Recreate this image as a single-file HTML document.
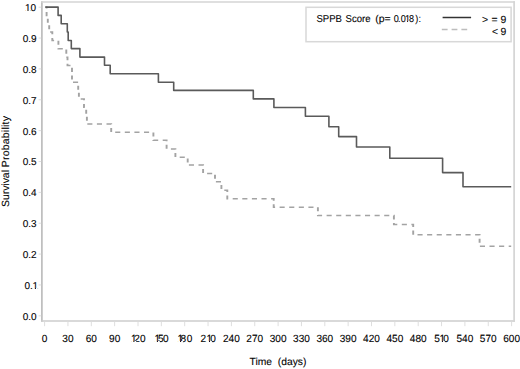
<!DOCTYPE html>
<html><head><meta charset="utf-8"><style>
html,body{margin:0;padding:0;background:#fff;}
svg{display:block;}
.t{text-rendering:geometricPrecision;font-family:"Liberation Sans",sans-serif;font-size:10px;fill:#000;stroke:#000;stroke-width:0.1px;}
</style></head><body>
<svg width="520" height="369" viewBox="0 0 520 369" xmlns="http://www.w3.org/2000/svg">
<rect width="520" height="369" fill="#fff"/>
<line x1="41.9" y1="1.2" x2="41.9" y2="321.8" stroke="#b9b9b9" stroke-width="1.6"/>
<line x1="41.2" y1="2.0" x2="514.9" y2="2.0" stroke="#d4d4d4" stroke-width="1.7"/>
<line x1="41.2" y1="321.0" x2="514.9" y2="321.0" stroke="#cdcdcd" stroke-width="1.7"/>
<line x1="514.1" y1="1.2" x2="514.1" y2="321.8" stroke="#d4d4d4" stroke-width="1.7"/>
<line x1="38.6" y1="315.80" x2="41.2" y2="315.80" stroke="#dedede" stroke-width="1"/>
<text transform="translate(36.60,320.00) scale(1.0,1.0)" text-anchor="end" class="t" style="font-size:10px">0.0</text>
<line x1="38.6" y1="284.94" x2="41.2" y2="284.94" stroke="#dedede" stroke-width="1"/>
<text transform="translate(0,289) scale(1.0,1)" x="24.61 29.99 32.44" class="t" style="font-size:10px">0.1</text>
<line x1="38.6" y1="254.08" x2="41.2" y2="254.08" stroke="#dedede" stroke-width="1"/>
<text transform="translate(36.60,258.00) scale(1.0,1.0)" text-anchor="end" class="t" style="font-size:10px">0.2</text>
<line x1="38.6" y1="223.22" x2="41.2" y2="223.22" stroke="#dedede" stroke-width="1"/>
<text transform="translate(36.60,227.00) scale(1.0,1.0)" text-anchor="end" class="t" style="font-size:10px">0.3</text>
<line x1="38.6" y1="192.36" x2="41.2" y2="192.36" stroke="#dedede" stroke-width="1"/>
<text transform="translate(36.60,196.00) scale(1.0,1.0)" text-anchor="end" class="t" style="font-size:10px">0.4</text>
<line x1="38.6" y1="161.50" x2="41.2" y2="161.50" stroke="#dedede" stroke-width="1"/>
<text transform="translate(36.60,165.00) scale(1.0,1.0)" text-anchor="end" class="t" style="font-size:10px">0.5</text>
<line x1="38.6" y1="130.64" x2="41.2" y2="130.64" stroke="#dedede" stroke-width="1"/>
<text transform="translate(36.60,135.00) scale(1.0,1.0)" text-anchor="end" class="t" style="font-size:10px">0.6</text>
<line x1="38.6" y1="99.78" x2="41.2" y2="99.78" stroke="#dedede" stroke-width="1"/>
<text transform="translate(36.60,104.00) scale(1.0,1.0)" text-anchor="end" class="t" style="font-size:10px">0.7</text>
<line x1="38.6" y1="68.92" x2="41.2" y2="68.92" stroke="#dedede" stroke-width="1"/>
<text transform="translate(36.60,73.00) scale(1.0,1.0)" text-anchor="end" class="t" style="font-size:10px">0.8</text>
<line x1="38.6" y1="38.06" x2="41.2" y2="38.06" stroke="#dedede" stroke-width="1"/>
<text transform="translate(36.60,42.00) scale(1.0,1.0)" text-anchor="end" class="t" style="font-size:10px">0.9</text>
<line x1="38.6" y1="7.20" x2="41.2" y2="7.20" stroke="#dedede" stroke-width="1"/>
<text transform="translate(0,11) scale(1.0,1)" x="25.04 28.09 30.61" class="t" style="font-size:10px">1.0</text>
<line x1="44.60" y1="321.8" x2="44.60" y2="326.2" stroke="#dedede" stroke-width="1"/>
<text transform="translate(44.60,342.00) scale(0.97,1.0)" text-anchor="middle" class="t" style="font-size:10.4px">0</text>
<line x1="67.95" y1="321.8" x2="67.95" y2="326.2" stroke="#dedede" stroke-width="1"/>
<text transform="translate(67.95,342.00) scale(0.97,1.0)" text-anchor="middle" class="t" style="font-size:10.4px">30</text>
<line x1="91.30" y1="321.8" x2="91.30" y2="326.2" stroke="#dedede" stroke-width="1"/>
<text transform="translate(91.30,342.00) scale(0.97,1.0)" text-anchor="middle" class="t" style="font-size:10.4px">60</text>
<line x1="114.65" y1="321.8" x2="114.65" y2="326.2" stroke="#dedede" stroke-width="1"/>
<text transform="translate(114.65,342.00) scale(0.97,1.0)" text-anchor="middle" class="t" style="font-size:10.4px">90</text>
<line x1="138.00" y1="321.8" x2="138.00" y2="326.2" stroke="#dedede" stroke-width="1"/>
<text transform="translate(0,342) scale(0.97,1)" x="134.97 138.34 144.34" class="t" style="font-size:10.4px">120</text>
<line x1="161.35" y1="321.8" x2="161.35" y2="326.2" stroke="#dedede" stroke-width="1"/>
<text transform="translate(0,342) scale(0.97,1)" x="159.19 162.99 168.05" class="t" style="font-size:10.4px">150</text>
<line x1="184.70" y1="321.8" x2="184.70" y2="326.2" stroke="#dedede" stroke-width="1"/>
<text transform="translate(0,342) scale(0.97,1)" x="183.11 186.15 192.48" class="t" style="font-size:10.4px">180</text>
<line x1="208.05" y1="321.8" x2="208.05" y2="326.2" stroke="#dedede" stroke-width="1"/>
<text transform="translate(0,342) scale(0.97,1)" x="206.80 212.90 216.81" class="t" style="font-size:10.4px">210</text>
<line x1="231.40" y1="321.8" x2="231.40" y2="326.2" stroke="#dedede" stroke-width="1"/>
<text transform="translate(231.40,342.00) scale(0.97,1.0)" text-anchor="middle" class="t" style="font-size:10.4px">240</text>
<line x1="254.75" y1="321.8" x2="254.75" y2="326.2" stroke="#dedede" stroke-width="1"/>
<text transform="translate(254.75,342.00) scale(0.97,1.0)" text-anchor="middle" class="t" style="font-size:10.4px">270</text>
<line x1="278.10" y1="321.8" x2="278.10" y2="326.2" stroke="#dedede" stroke-width="1"/>
<text transform="translate(278.10,342.00) scale(0.97,1.0)" text-anchor="middle" class="t" style="font-size:10.4px">300</text>
<line x1="301.45" y1="321.8" x2="301.45" y2="326.2" stroke="#dedede" stroke-width="1"/>
<text transform="translate(301.45,342.00) scale(0.97,1.0)" text-anchor="middle" class="t" style="font-size:10.4px">330</text>
<line x1="324.80" y1="321.8" x2="324.80" y2="326.2" stroke="#dedede" stroke-width="1"/>
<text transform="translate(324.80,342.00) scale(0.97,1.0)" text-anchor="middle" class="t" style="font-size:10.4px">360</text>
<line x1="348.15" y1="321.8" x2="348.15" y2="326.2" stroke="#dedede" stroke-width="1"/>
<text transform="translate(348.15,342.00) scale(0.97,1.0)" text-anchor="middle" class="t" style="font-size:10.4px">390</text>
<line x1="371.50" y1="321.8" x2="371.50" y2="326.2" stroke="#dedede" stroke-width="1"/>
<text transform="translate(371.50,342.00) scale(0.97,1.0)" text-anchor="middle" class="t" style="font-size:10.4px">420</text>
<line x1="394.85" y1="321.8" x2="394.85" y2="326.2" stroke="#dedede" stroke-width="1"/>
<text transform="translate(394.85,342.00) scale(0.97,1.0)" text-anchor="middle" class="t" style="font-size:10.4px">450</text>
<line x1="418.20" y1="321.8" x2="418.20" y2="326.2" stroke="#dedede" stroke-width="1"/>
<text transform="translate(418.20,342.00) scale(0.97,1.0)" text-anchor="middle" class="t" style="font-size:10.4px">480</text>
<line x1="441.55" y1="321.8" x2="441.55" y2="326.2" stroke="#dedede" stroke-width="1"/>
<text transform="translate(0,342) scale(0.97,1)" x="447.73 453.01 457.02" class="t" style="font-size:10.4px">510</text>
<line x1="464.90" y1="321.8" x2="464.90" y2="326.2" stroke="#dedede" stroke-width="1"/>
<text transform="translate(464.90,342.00) scale(0.97,1.0)" text-anchor="middle" class="t" style="font-size:10.4px">540</text>
<line x1="488.25" y1="321.8" x2="488.25" y2="326.2" stroke="#dedede" stroke-width="1"/>
<text transform="translate(488.25,342.00) scale(0.97,1.0)" text-anchor="middle" class="t" style="font-size:10.4px">570</text>
<line x1="511.60" y1="321.8" x2="511.60" y2="326.2" stroke="#dedede" stroke-width="1"/>
<text transform="translate(511.60,342.00) scale(0.97,1.0)" text-anchor="middle" class="t" style="font-size:10.4px">600</text>
<text x="278.0" y="364.9" text-anchor="middle" class="t" style="font-size:10.3px" xml:space="preserve">Time  (days)</text>
<text transform="translate(9.0,207.0) rotate(-90)" class="t" style="font-size:10.4px">Survival</text>
<text transform="translate(9.0,167.3) rotate(-90)" class="t" style="font-size:10.4px" textLength="51.3" lengthAdjust="spacing">Probability</text>
<rect x="306.0" y="7.3" width="205.1" height="34.4" fill="none" stroke="#d8d8d8" stroke-width="1.5"/>
<text transform="translate(316.50,22.00) scale(0.955,1.0)" class="t" style="font-size:10px">SPPB</text>
<text transform="translate(345.60,22.00) scale(0.955,1.0)" class="t" style="font-size:10px">Score</text>
<text transform="translate(375.20,22.00) scale(1.05,1.0)" class="t" style="font-size:10px">(p=</text>
<text transform="translate(0,22) scale(0.91,1)" x="432.80 437.33 440.27 444.96 449.35 456.42 459.97" class="t" style="font-size:10px">0.018):</text>
<line x1="442.6" y1="17.5" x2="471.1" y2="17.5" stroke="#333" stroke-width="1.5"/>
<line x1="441.8" y1="29.6" x2="468" y2="29.6" stroke="#bdbdbd" stroke-width="1.5" stroke-dasharray="5.8 4"/>
<text transform="translate(482.00,23.00) scale(1.0,1.0)" class="t" style="font-size:10.4px">&gt;</text>
<text transform="translate(491.50,23.00) scale(1.0,1.0)" class="t" style="font-size:10.4px">=</text>
<text transform="translate(500.40,23.00) scale(1.0,1.0)" class="t" style="font-size:10.4px">9</text>
<text transform="translate(492.10,35.00) scale(1.0,1.0)" class="t" style="font-size:10.4px">&lt;</text>
<text transform="translate(500.40,35.00) scale(1.0,1.0)" class="t" style="font-size:10.4px">9</text>
<rect x="32.89" y="288.00" width="1.97" height="1.4" fill="#fff"/>
<rect x="35.91" y="288.00" width="1.83" height="1.4" fill="#fff"/>
<rect x="25.49" y="10.00" width="1.97" height="1.4" fill="#fff"/>
<rect x="28.51" y="10.00" width="1.83" height="1.4" fill="#fff"/>
<rect x="131.37" y="341.00" width="1.99" height="1.4" fill="#fff"/>
<rect x="134.42" y="341.00" width="1.85" height="1.4" fill="#fff"/>
<rect x="154.87" y="341.00" width="1.99" height="1.4" fill="#fff"/>
<rect x="157.92" y="341.00" width="1.85" height="1.4" fill="#fff"/>
<rect x="178.07" y="341.00" width="1.99" height="1.4" fill="#fff"/>
<rect x="181.12" y="341.00" width="1.85" height="1.4" fill="#fff"/>
<rect x="206.97" y="341.00" width="1.99" height="1.4" fill="#fff"/>
<rect x="210.02" y="341.00" width="1.85" height="1.4" fill="#fff"/>
<rect x="439.87" y="341.00" width="1.99" height="1.4" fill="#fff"/>
<rect x="442.92" y="341.00" width="1.85" height="1.4" fill="#fff"/>
<rect x="405.32" y="21.00" width="1.79" height="1.4" fill="#fff"/>
<rect x="408.07" y="21.00" width="1.67" height="1.4" fill="#fff"/>
<polyline transform="scale(1,0.79)" points="45.3,9.0 46.6,9.0 46.6,19.5 47.8,19.5 47.8,30.0 49.2,30.0 49.2,40.6 52.3,40.6 52.3,51.3 58.4,51.3 58.4,61.8 66.3,61.8 66.3,72.4 67.5,72.4 67.5,82.9 72.0,82.9 72.0,104.1 78.2,104.1 78.2,114.7 78.9,114.7 78.9,125.2 84.0,125.2 84.0,135.8 86.2,135.8 86.2,146.3 86.9,146.3 86.9,157.0 111.2,157.0 111.2,167.5 153.4,167.5 153.4,177.6 166.6,177.6 166.6,188.6 175.4,188.6 175.4,199.0 187.7,199.0 187.7,209.0 203.1,209.0 203.1,219.6 215.0,219.6 215.0,230.0 221.4,230.0 221.4,240.8 227.3,240.8 227.3,251.6 273.7,251.6 273.7,262.3 317.9,262.3 317.9,272.9 393.9,272.9 393.9,284.1 413.2,284.1 413.2,297.2 479.6,297.2 479.6,311.6 511.2,311.6" fill="none" stroke="#a3a3a3" stroke-width="1.9" stroke-dasharray="5.1 4.5" stroke-dashoffset="2.0"/>
<polyline points="45.3,7.1 58.1,7.1 58.1,15.4 61.2,15.4 61.2,23.8 67.3,23.8 67.3,32.0 68.2,32.0 68.2,40.5 71.3,40.5 71.3,48.6 79.9,48.6 79.9,57.1 104.5,57.1 104.5,65.3 110.2,65.3 110.2,73.8 158.4,73.8 158.4,82.2 173.7,82.2 173.7,90.4 253.3,90.4 253.3,98.9 273.9,98.9 273.9,107.5 305.4,107.5 305.4,116.2 328.9,116.2 328.9,126.7 338.7,126.7 338.7,136.6 356.5,136.6 356.5,147.0 389.8,147.0 389.8,158.3 442.6,158.3 442.6,172.6 463.0,172.6 463.0,186.7 511.2,186.7" fill="none" stroke="#5a5a5a" stroke-width="1.6" stroke-linejoin="round"/>
</svg>
</body></html>
